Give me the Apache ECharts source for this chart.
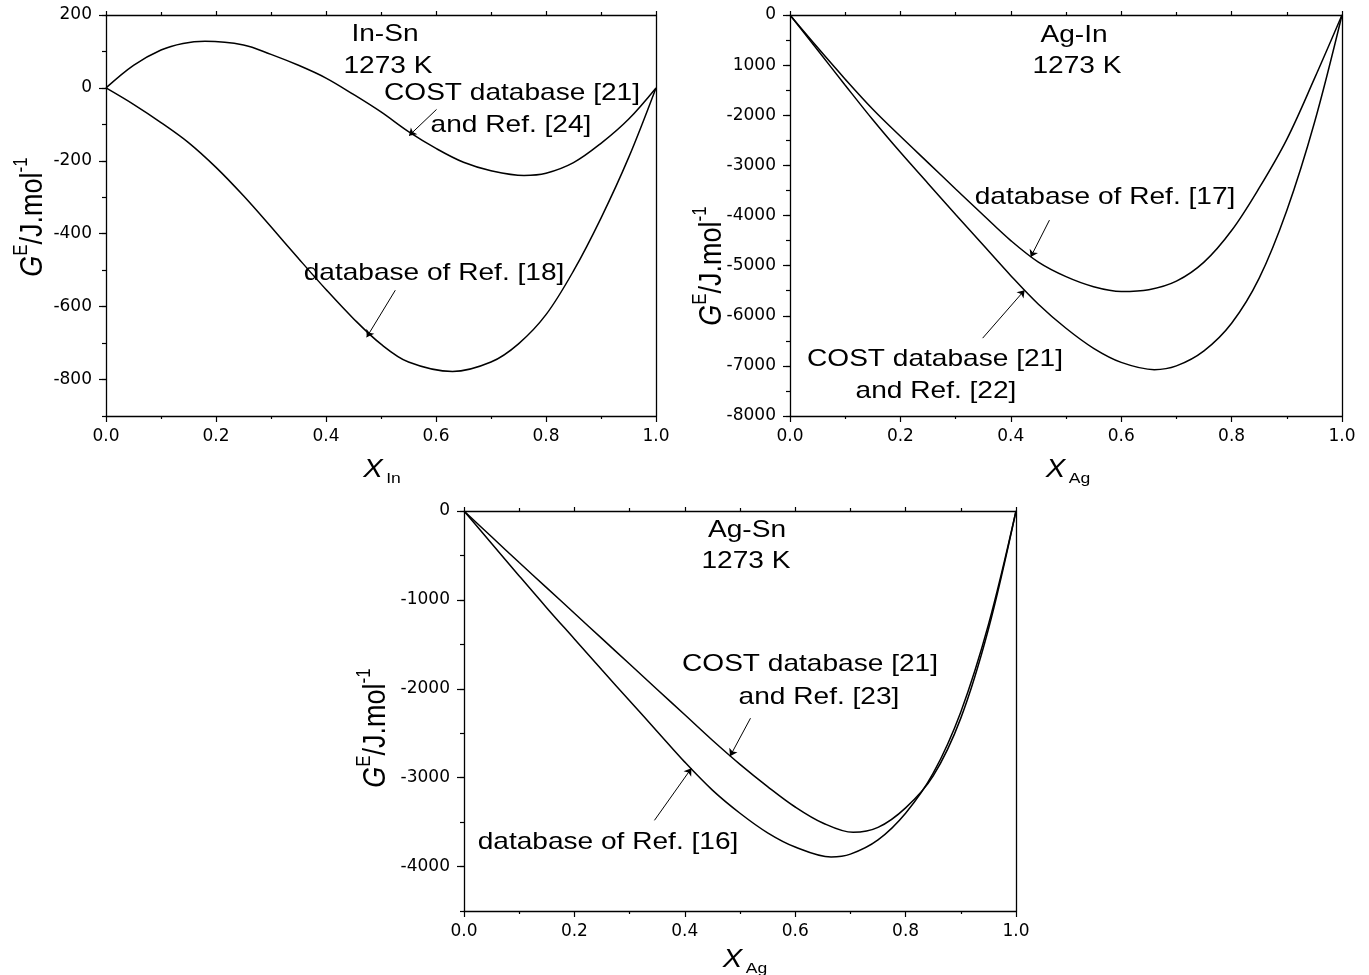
<!DOCTYPE html>
<html>
<head>
<meta charset="utf-8">
<script src="https://cdn.jsdelivr.net/npm/echarts@6/dist/echarts.min.js"></script>
<style>
html,body{margin:0;padding:0;background:#fff;}
#c{width:1369px;height:975px;}
</style>
</head>
<body>
<div id="c"></div>
<script>
// ---------- data ----------
// In-Sn, 1273 K
const inSnCostX  = [0, 0.05, 0.1, 0.14, 0.18, 0.25, 0.3, 0.35, 0.4, 0.45, 0.5, 0.55, 0.6, 0.65, 0.7, 0.76, 0.8, 0.85, 0.9, 0.95, 1.0];
const inSnCostY  = [0, 62, 104, 122, 128, 118, 92, 62, 27, -18, -66, -120, -166, -204, -227, -240, -234, -205, -152, -86, 0];
const inSnRef18X = [0, 0.05, 0.1, 0.15, 0.2, 0.25, 0.3, 0.35, 0.4, 0.45, 0.5, 0.55, 0.63, 0.7, 0.75, 0.8, 0.85, 0.9, 0.95, 1.0];
const inSnRef18Y = [0, -45, -95, -150, -218, -296, -381, -468, -553, -633, -703, -752, -778, -752, -702, -622, -502, -357, -192, 0];

// Ag-In, 1273 K
const agInRef17X = [0, 0.05, 0.1, 0.15, 0.2, 0.25, 0.3, 0.35, 0.4, 0.45, 0.5, 0.55, 0.6, 0.65, 0.7, 0.75, 0.8, 0.85, 0.9, 0.95, 1.0];
const agInRef17Y = [0, -650, -1280, -1880, -2420, -2945, -3470, -3990, -4500, -4930, -5220, -5420, -5515, -5480, -5310, -4930, -4300, -3450, -2480, -1270, 0];
const agInCostX  = [0, 0.05, 0.1, 0.15, 0.2, 0.25, 0.3, 0.35, 0.4, 0.45, 0.5, 0.55, 0.6, 0.66, 0.7, 0.75, 0.8, 0.85, 0.9, 0.95, 1.0];
const agInCostY  = [0, -700, -1400, -2090, -2740, -3360, -3980, -4590, -5200, -5770, -6250, -6650, -6930, -7075, -7000, -6700, -6150, -5250, -3900, -2150, 0];

// Ag-Sn, 1273 K
const agSnCostX  = [0, 0.05, 0.1, 0.15, 0.2, 0.25, 0.3, 0.35, 0.4, 0.45, 0.5, 0.55, 0.6, 0.65, 0.705, 0.75, 0.8, 0.85, 0.9, 0.95, 1.0];
const agSnCostY  = [0, -290, -580, -865, -1150, -1436, -1722, -2008, -2293, -2579, -2850, -3100, -3330, -3510, -3615, -3560, -3340, -2980, -2330, -1330, 0];
const agSnRef16X = [0, 0.05, 0.1, 0.15, 0.2, 0.25, 0.3, 0.35, 0.4, 0.45, 0.5, 0.55, 0.6, 0.665, 0.7, 0.75, 0.8, 0.85, 0.9, 0.95, 1.0];
const agSnRef16Y = [0, -365, -730, -1090, -1440, -1790, -2135, -2480, -2825, -3140, -3400, -3620, -3780, -3892, -3860, -3700, -3400, -2950, -2260, -1280, 0];

// tick values and labels
const xTickLabels = ['0.0', '0.2', '0.4', '0.6', '0.8', '1.0'];
const y1Ticks  = [200, 0, -200, -400, -600, -800];
const y1Labels = ['200', '0', '-200', '-400', '-600', '-800'];
const y2Ticks  = [0, -1000, -2000, -3000, -4000, -5000, -6000, -7000, -8000];
const y2Labels = ['0', '1000', '-2000', '-3000', '-4000', '-5000', '-6000', '-7000', '-8000'];
const y3Ticks  = [0, -1000, -2000, -3000, -4000];
const y3Labels = ['0', '-1000', '-2000', '-3000', '-4000'];

// ---------- layout ----------
const TF = 'DejaVu Sans';
const AF = '"Liberation Sans", Arial, Helvetica, sans-serif';
const SX = 1.17;
const black = '#000';

const panels = [
  {grid: {left: 106, top: 15, width: 550, height: 401}, ymin: -900, ymax: 200, minor: 100, ticks: y1Ticks, labels: y1Labels,
   series: [[inSnCostX, inSnCostY], [inSnRef18X, inSnRef18Y]],
   arrows: [[[0.601, -59], [0.551, -131]], [[0.526, -555], [0.474, -684]]]},
  {grid: {left: 790, top: 15, width: 552, height: 401}, ymin: -8000, ymax: 0, minor: 500, ticks: y2Ticks, labels: y2Labels,
   series: [[agInRef17X, agInRef17Y], [agInCostX, agInCostY]],
   arrows: [[[0.470, -4092], [0.436, -4830]], [[0.349, -6447], [0.425, -5489]]]},
  {grid: {left: 464, top: 511, width: 552, height: 400}, ymin: -4500, ymax: 0, minor: 500, ticks: y3Ticks, labels: y3Labels,
   series: [[agSnCostX, agSnCostY], [agSnRef16X, agSnRef16Y]],
   arrows: [[[0.519, -2331], [0.482, -2759]], [[0.345, -3480], [0.412, -2894]]]}
];

const grids = [], xAxes = [], yAxes = [], series = [];
panels.forEach((p, i) => {
  grids.push(Object.assign({show: false, containLabel: false}, p.grid));
  const xBase = {
    gridIndex: i, type: 'value', min: 0, max: 1, interval: 0.2,
    axisLine: {show: true, onZero: false, lineStyle: {color: black, width: 1.3}},
    axisTick: {show: true, length: 6, lineStyle: {color: black, width: 1.2}},
    minorTick: {show: true, splitNumber: 2, length: 3, lineStyle: {color: black, width: 1.2}},
    splitLine: {show: false}, minorSplitLine: {show: false}
  };
  xAxes.push(Object.assign({}, xBase, {
    position: 'bottom',
    axisLabel: {color: black, fontFamily: TF, fontSize: 17, margin: 12,
      formatter: v => xTickLabels[Math.round(v / 0.2)]}
  }));
  xAxes.push(Object.assign({}, xBase, {
    position: 'top', axisLabel: {show: false},
    axisTick: {show: true, length: 4, lineStyle: {color: black, width: 1.2}}
  }));
  yAxes.push({
    gridIndex: i, type: 'value', min: p.ymin, max: p.ymax, position: 'left',
    axisLine: {show: true, onZero: false, lineStyle: {color: black, width: 1.3}},
    axisTick: {show: true, length: 7, customValues: p.ticks, lineStyle: {color: black, width: 1.2}},
    axisLabel: {color: black, fontFamily: TF, fontSize: 17, margin: 14, customValues: p.ticks,
      formatter: v => p.labels[p.ticks.indexOf(v)]},
    splitLine: {show: false}
  });
  yAxes.push({
    gridIndex: i, type: 'value', min: p.ymin, max: p.ymax, interval: p.minor, position: 'left',
    axisLine: {show: false}, axisLabel: {show: false}, splitLine: {show: false},
    axisTick: {show: true, length: 4, lineStyle: {color: black, width: 1.2}}
  });
  yAxes.push({
    gridIndex: i, type: 'value', min: p.ymin, max: p.ymax, position: 'right',
    axisLine: {show: true, onZero: false, lineStyle: {color: black, width: 1.3}},
    axisTick: {show: false}, axisLabel: {show: false}, splitLine: {show: false}
  });
  p.series.forEach((s, k) => {
    series.push({
      type: 'line', xAxisIndex: 2 * i, yAxisIndex: 3 * i,
      data: s[0].map((x, j) => [x, s[1][j]]),
      showSymbol: false, smooth: 0.35, silent: true,
      lineStyle: {color: black, width: 1.5},
      markLine: {
        silent: true, symbol: ['none', 'arrow'], symbolSize: 7, animation: false,
        label: {show: false}, emphasis: {disabled: true},
        lineStyle: {color: black, width: 1, type: 'solid'},
        data: [[{coord: p.arrows[k][0]}, {coord: p.arrows[k][1]}]]
      }
    });
  });
});

function txt(t, x, y) {
  return {type: 'text', x: x, y: y, scaleX: SX, silent: true,
    style: {text: t, fill: black, fontSize: 24, fontFamily: AF,
      align: 'center', verticalAlign: 'middle', textAlign: 'center', textVerticalAlign: 'middle'}};
}
function yName(x, y) {
  return {type: 'text', x: x, y: y, rotation: Math.PI / 2, scaleY: SX, silent: true,
    style: {text: '{g|G}{s|E}{n|/J.mol}{s|-1}', fill: black, fontFamily: AF, fontSize: 27,
      align: 'center', verticalAlign: 'middle', textAlign: 'center', textVerticalAlign: 'middle',
      rich: {
        g: {fontFamily: AF, fontSize: 27, fontStyle: 'italic', lineHeight: 36, verticalAlign: 'middle', fill: black},
        n: {fontFamily: AF, fontSize: 27, lineHeight: 36, verticalAlign: 'middle', fill: black},
        s: {fontFamily: AF, fontSize: 17, lineHeight: 17, verticalAlign: 'top', fill: black}
      }}};
}
function xName(sub, x, y) {
  return {type: 'text', x: x, y: y, scaleX: SX, silent: true,
    style: {text: '{x|X}{b|' + sub + '}', fill: black, fontFamily: AF, fontSize: 25,
      align: 'center', verticalAlign: 'middle', textAlign: 'center', textVerticalAlign: 'middle',
      rich: {
        x: {fontFamily: AF, fontSize: 25, fontStyle: 'italic', lineHeight: 32, verticalAlign: 'middle', fill: black},
        b: {fontFamily: AF, fontSize: 15, lineHeight: 15, verticalAlign: 'bottom', fill: black, padding: [0, 0, 0, 3]}
      }}};
}

const graphics = [
  txt('In-Sn', 385, 34), txt('1273 K', 388, 66),
  txt('COST database [21]', 512, 93), txt('and Ref. [24]', 511, 125),
  txt('database of Ref. [18]', 434, 273),
  txt('Ag-In', 1074, 35), txt('1273 K', 1077, 66),
  txt('database of Ref. [17]', 1105, 197),
  txt('COST database [21]', 935, 359), txt('and Ref. [22]', 936, 391),
  txt('Ag-Sn', 747, 530), txt('1273 K', 746, 561),
  txt('COST database [21]', 810, 664), txt('and Ref. [23]', 819, 697),
  txt('database of Ref. [16]', 608, 842),
  yName(33, 217), yName(712, 266), yName(376, 728),
  xName('In', 382, 470), xName('Ag', 1068, 470), xName('Ag', 745, 960)
];

const chart = echarts.init(document.getElementById('c'), null, {renderer: 'canvas'});
chart.setOption({
  animation: false,
  backgroundColor: '#fff',
  grid: grids, xAxis: xAxes, yAxis: yAxes, series: series,
  graphic: graphics
});
</script>
</body>
</html>
